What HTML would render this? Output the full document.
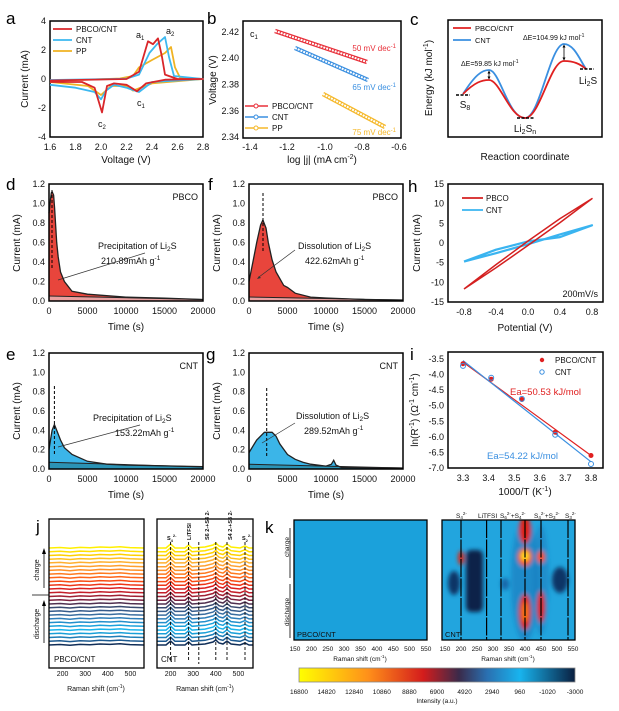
<!DOCTYPE html>
<html><head><meta charset="utf-8"><style>
body{margin:0;background:#fff}
svg{display:block;font-family:"Liberation Sans",Arial,sans-serif}
.t{font-size:9px;fill:#111}
.ti{font-size:10px;fill:#111}
.L{font-size:17px;fill:#000}
.s{font-size:6.5px;fill:#111}
</style></head><body>
<svg width="619" height="711" viewBox="0 0 619 711" xmlns="http://www.w3.org/2000/svg">
<defs>
<linearGradient id="cb" x1="0" x2="1" y1="0" y2="0">
<stop offset="0" stop-color="#ffff00"/><stop offset="0.25" stop-color="#ff901a"/><stop offset="0.45" stop-color="#d41c1c"/><stop offset="0.58" stop-color="#3a2a4a"/><stop offset="0.68" stop-color="#2a6fb0"/><stop offset="0.8" stop-color="#18b4ee"/><stop offset="1" stop-color="#0a1f40"/>
</linearGradient>
<filter id="bl" x="-50%" y="-50%" width="200%" height="200%"><feGaussianBlur stdDeviation="2"/></filter>
<path id="lt" d="M49,0 L60,-0.5 L70,0.3 L80,-0.6 L90,-0.2 L100,-1 L110,-0.6 L120,-1.2 L130,-0.4 L144,0" fill="none"/>
<path id="rt" d="M157,0 L166,0 L170.6,-4 L175,0 L185,0 L188.6,-3 L192,0 L205,-1 L213,-3 L215.8,-5 L219,-2 L223,-1 L227,-4 L231,-1 L240,0 L245,-2 L249,0 L253,0" fill="none"/>
</defs>

<!-- ========== a ========== -->
<text x="6" y="24" class="L">a</text>
<rect x="50" y="21" width="153" height="116" fill="none" stroke="#000" stroke-width="1.5"/>
<g class="t" text-anchor="end"><text x="46" y="24">4</text><text x="46" y="53">2</text><text x="46" y="82">0</text><text x="46" y="111">-2</text><text x="46" y="140">-4</text></g>
<g class="t" text-anchor="middle"><text x="50" y="150">1.6</text><text x="75.5" y="150">1.8</text><text x="101" y="150">2.0</text><text x="126.5" y="150">2.2</text><text x="152" y="150">2.4</text><text x="177.5" y="150">2.6</text><text x="203" y="150">2.8</text></g>
<text x="126" y="163" class="ti" text-anchor="middle">Voltage (V)</text>
<text transform="translate(28,79) rotate(-90)" class="ti" text-anchor="middle">Current (mA)</text>
<g fill="none" stroke-width="1.8" stroke-linejoin="round">
<polyline stroke="#f0b323" points="50,82 88,86 101,95 111,86 126.5,86 133,90.6 152,83.4 203,79 180,77.6 175,67.4 171,47 165,53 152,60 139,67.4 133,76 120,78.5 50,81"/>
<polyline stroke="#3cb8f0" points="50,84.8 75.5,87.7 94.6,92 101,99.3 106,90.6 114,84.8 126.5,87.7 139,92 152,82 203,79 174,76 169,57 165,37 157,44.2 149.5,52.9 139,74.6 126,78.8 50,80"/>
<polyline stroke="#d9262a" points="50,82 82,82 94.6,87.7 102,112.4 107,86 114,83.4 126.5,84.8 137,91.3 146,83.4 165,79.7 203,79 177.5,79 165,74.6 162,57 158,38.4 153,44.2 148,41.3 139,71.75 126.5,79 50,80.5"/>
</g>
<g stroke-width="1.8"><line x1="53" y1="29" x2="72" y2="29" stroke="#d9262a"/><line x1="53" y1="40" x2="72" y2="40" stroke="#3cb8f0"/><line x1="53" y1="51" x2="72" y2="51" stroke="#f0b323"/></g>
<g class="t" style="font-size:8px"><text x="76" y="32">PBCO/CNT</text><text x="76" y="43">CNT</text><text x="76" y="54">PP</text></g>
<g class="t"><text x="136" y="38">a<tspan font-size="6" dy="2">1</tspan></text><text x="166" y="34">a<tspan font-size="6" dy="2">2</tspan></text><text x="137" y="106">c<tspan font-size="6" dy="2">1</tspan></text><text x="98" y="127">c<tspan font-size="6" dy="2">2</tspan></text></g>

<!-- ========== b ========== -->
<text x="207" y="24" class="L">b</text>
<rect x="243" y="21" width="158" height="117" fill="none" stroke="#000" stroke-width="1.5"/>
<g class="t" text-anchor="end"><text x="239" y="35">2.42</text><text x="239" y="61">2.40</text><text x="239" y="87.5">2.38</text><text x="239" y="114">2.36</text><text x="239" y="140">2.34</text></g>
<g class="t" text-anchor="middle"><text x="250" y="150">-1.4</text><text x="287" y="150">-1.2</text><text x="325" y="150">-1.0</text><text x="362" y="150">-0.8</text><text x="399" y="150">-0.6</text></g>
<text x="322" y="163" class="ti" text-anchor="middle">log |j| (mA cm<tspan font-size="7" dy="-4">-2</tspan><tspan dy="4">)</tspan></text>
<text transform="translate(216,80) rotate(-90)" class="ti" text-anchor="middle">Voltage (V)</text>
<g fill="none">
<line x1="275" y1="31" x2="367" y2="62" stroke="#e8303a" stroke-width="4.5"/><line x1="275" y1="31" x2="367" y2="62" stroke="#fff" stroke-width="2" stroke-dasharray="2 1"/>
<line x1="295" y1="48" x2="368" y2="80" stroke="#3a8fe0" stroke-width="4.5"/><line x1="295" y1="48" x2="368" y2="80" stroke="#fff" stroke-width="2" stroke-dasharray="2 1"/>
<line x1="323" y1="94" x2="385" y2="127" stroke="#f5b82a" stroke-width="4.5"/><line x1="323" y1="94" x2="385" y2="127" stroke="#fff" stroke-width="2" stroke-dasharray="2 1"/>
</g>
<g style="font-size:8px" text-anchor="end"><text x="396" y="51" fill="#e8303a">50 mV dec<tspan font-size="6" dy="-3">-1</tspan></text><text x="396" y="90" fill="#3a8fe0">65 mV dec<tspan font-size="6" dy="-3">-1</tspan></text><text x="396" y="135" fill="#f5b82a">75 mV dec<tspan font-size="6" dy="-3">-1</tspan></text></g>
<text x="250" y="37" class="t">c<tspan font-size="6" dy="2">1</tspan></text>
<g stroke-width="1.5"><line x1="245" y1="106" x2="268" y2="106" stroke="#e8303a"/><line x1="245" y1="117" x2="268" y2="117" stroke="#3a8fe0"/><line x1="245" y1="128" x2="268" y2="128" stroke="#f5b82a"/></g>
<g fill="#fff" stroke-width="1"><circle cx="256" cy="106" r="2" stroke="#e8303a"/><circle cx="256" cy="117" r="2" stroke="#3a8fe0"/><circle cx="256" cy="128" r="2" stroke="#f5b82a"/></g>
<g class="t" style="font-size:8px"><text x="272" y="109">PBCO/CNT</text><text x="272" y="120">CNT</text><text x="272" y="131">PP</text></g>

<!-- ========== c ========== -->
<text x="410" y="25" class="L">c</text>
<rect x="448" y="20" width="154" height="117" fill="none" stroke="#000" stroke-width="1.5"/>
<text transform="translate(432,78) rotate(-90)" class="ti" text-anchor="middle">Energy (kJ mol<tspan font-size="7" dy="-4">-1</tspan><tspan dy="4">)</tspan></text>
<text x="525" y="160" class="ti" text-anchor="middle">Reaction coordinate</text>
<path d="M463,94 C475,75 482,70 489,70 C500,70 508,118 525,118 C540,118 550,44 564,44 C574,44 580,60 586,69" fill="none" stroke="#3a8fe0" stroke-width="1.8"/>
<path d="M463,94 C475,82 482,80 489,80 C500,80 510,118 525,118 C540,118 550,61 564,61 C574,61 580,64 586,69" fill="none" stroke="#e02020" stroke-width="1.8"/>
<g stroke="#000" stroke-width="1.5" stroke-dasharray="3 1.5"><line x1="456" y1="95" x2="470" y2="95"/><line x1="517" y1="118" x2="534" y2="118"/><line x1="580" y1="69" x2="594" y2="69"/></g>
<g stroke="#000" stroke-width="0.8"><line x1="489" y1="72" x2="489" y2="79"/><line x1="564" y1="46" x2="564" y2="60"/></g>
<g fill="#000"><path d="M489,70.5 l-1.5,3 h3z"/><path d="M489,79.5 l-1.5,-3 h3z"/><path d="M564,44.5 l-1.5,3 h3z"/><path d="M564,60.5 l-1.5,-3 h3z"/></g>
<g style="font-size:7px" fill="#111"><text x="461" y="66">ΔE=59.85 kJ mol<tspan font-size="5" dy="-3">-1</tspan></text><text x="523" y="40">ΔE=104.99 kJ mol<tspan font-size="5" dy="-3">-1</tspan></text></g>
<g stroke-width="1.8"><line x1="453" y1="28" x2="471" y2="28" stroke="#e02020"/><line x1="453" y1="40" x2="471" y2="40" stroke="#3a8fe0"/></g>
<g class="t" style="font-size:7.5px"><text x="475" y="31">PBCO/CNT</text><text x="475" y="43">CNT</text></g>
<g style="font-size:10px" fill="#111" text-anchor="middle"><text x="465" y="108">S<tspan font-size="7" dy="2">8</tspan></text><text x="525" y="132">Li<tspan font-size="7" dy="2">2</tspan><tspan dy="-2">S</tspan><tspan font-size="7" dy="2">n</tspan></text><text x="588" y="84">Li<tspan font-size="7" dy="2">2</tspan><tspan dy="-2">S</tspan></text></g>

<!-- ========== d ========== -->
<text x="6" y="190" class="L">d</text>
<polygon points="49,296 203,299.5 203,301 49,301" fill="#e9a0a0"/>
<path d="M49,301 L49,213.2 L50.5,199 L51.3,193 L52.1,191.7 L53.6,195 L54.6,208 L56.7,242.5 L58.2,257 L60.5,272 L64.4,281.5 L72,291.3 L87.5,294.2 L126,297.1 L164.5,298.1 L203,299.5 L49,296Z" fill="#e8453c"/>
<polyline points="49,213.2 50.5,199 51.3,193 52.1,191.7 53.6,195 54.6,208 56.7,242.5 58.2,257 60.5,272 64.4,281.5 72,291.3 87.5,294.2 126,297.1 164.5,298.1 203,299.5" fill="none" stroke="#222" stroke-width="1.3"/>
<line x1="49" y1="296" x2="203" y2="299.5" stroke="#222" stroke-width="1"/>
<line x1="52" y1="190" x2="52" y2="270" stroke="#000" stroke-dasharray="3 2"/>
<rect x="49" y="184" width="154" height="117" fill="none" stroke="#000" stroke-width="1.5"/>
<g class="t" text-anchor="end"><text x="45" y="304">0.0</text><text x="45" y="284.5">0.2</text><text x="45" y="265">0.4</text><text x="45" y="245.5">0.6</text><text x="45" y="226">0.8</text><text x="45" y="206.5">1.0</text><text x="45" y="187">1.2</text></g>
<g class="t" text-anchor="middle"><text x="49" y="314">0</text><text x="87.5" y="314">5000</text><text x="126" y="314">10000</text><text x="164.5" y="314">15000</text><text x="203" y="314">20000</text></g>
<text x="126" y="330" class="ti" text-anchor="middle">Time (s)</text>
<text transform="translate(20,243) rotate(-90)" class="ti" text-anchor="middle">Current (mA)</text>
<text x="198" y="200" class="t" text-anchor="end">PBCO</text>
<text x="98" y="249" class="t">Precipitation of Li<tspan font-size="6.5" dy="2">2</tspan><tspan dy="-2">S</tspan></text>
<text x="101" y="264" class="t">210.89mAh g<tspan font-size="6.5" dy="-4">-1</tspan></text>
<line x1="145" y1="253" x2="58" y2="280" stroke="#333" stroke-width="0.7"/>

<!-- ========== f ========== -->
<text x="208" y="190" class="L">f</text>
<polygon points="249,297 403,300 403,301 249,301" fill="#e9a0a0"/>
<path d="M249,301 L249,281.5 L252.9,262 L256.7,242.5 L260.6,225 L262.9,220 L266,228 L268.3,242.5 L272.1,260 L276,271.8 L283.7,285.4 L287.5,287.4 L295.2,293.2 L310.6,297.1 L326,298 L364.5,299.5 L403,300 L249,297Z" fill="#e8453c"/>
<polyline points="249,281.5 252.9,262 256.7,242.5 260.6,225 262.9,220 266,228 268.3,242.5 272.1,260 276,271.8 283.7,285.4 287.5,287.4 295.2,293.2 310.6,297.1 326,298 364.5,299.5 403,300" fill="none" stroke="#222" stroke-width="1.3"/>
<line x1="249" y1="297" x2="403" y2="300" stroke="#222"/>
<line x1="263" y1="193" x2="263" y2="252" stroke="#000" stroke-dasharray="3 2"/>
<rect x="249" y="184" width="154" height="117" fill="none" stroke="#000" stroke-width="1.5"/>
<g class="t" text-anchor="end"><text x="245" y="304">0.0</text><text x="245" y="284.5">0.2</text><text x="245" y="265">0.4</text><text x="245" y="245.5">0.6</text><text x="245" y="226">0.8</text><text x="245" y="206.5">1.0</text><text x="245" y="187">1.2</text></g>
<g class="t" text-anchor="middle"><text x="249" y="314">0</text><text x="287.5" y="314">5000</text><text x="326" y="314">10000</text><text x="364.5" y="314">15000</text><text x="403" y="314">20000</text></g>
<text x="326" y="330" class="ti" text-anchor="middle">Time (s)</text>
<text transform="translate(220,243) rotate(-90)" class="ti" text-anchor="middle">Current (mA)</text>
<text x="398" y="200" class="t" text-anchor="end">PBCO</text>
<text x="298" y="249" class="t">Dissolution of Li<tspan font-size="6.5" dy="2">2</tspan><tspan dy="-2">S</tspan></text>
<text x="305" y="264" class="t">422.62mAh g<tspan font-size="6.5" dy="-4">-1</tspan></text>
<line x1="295" y1="250" x2="259" y2="277" stroke="#333" stroke-width="0.7"/>
<path d="M257,279 l4,-1 l-2,-2z" fill="#333"/>

<!-- ========== h ========== -->
<text x="408" y="192" class="L">h</text>
<rect x="448" y="184" width="155" height="118" fill="none" stroke="#000" stroke-width="1.5"/>
<g class="t" text-anchor="end"><text x="444" y="187">15</text><text x="444" y="206.7">10</text><text x="444" y="226.3">5</text><text x="444" y="246">0</text><text x="444" y="265.7">-5</text><text x="444" y="285.3">-10</text><text x="444" y="305">-15</text></g>
<g class="t" text-anchor="middle"><text x="464" y="315">-0.8</text><text x="496" y="315">-0.4</text><text x="528" y="315">0.0</text><text x="560" y="315">0.4</text><text x="592" y="315">0.8</text></g>
<text x="525" y="331" class="ti" text-anchor="middle">Potential (V)</text>
<text transform="translate(420,243) rotate(-90)" class="ti" text-anchor="middle">Current (mA)</text>
<g fill="none" stroke-linejoin="round">
<polyline stroke="#3ab4f0" stroke-width="2.2" points="464,261.5 496,253.2 528,244.2 560,234.4 592,225.3 560,237.1 528,241.4 496,249.7 464,261.5"/>
<polyline stroke="#d42020" stroke-width="1.5" points="464,289 496,264.6 528,241 560,218.6 592,198.6 560,222.6 528,245.4 496,267.8 464,289"/>
</g>
<g stroke-width="1.8"><line x1="462" y1="198" x2="483" y2="198" stroke="#d42020"/><line x1="462" y1="210" x2="483" y2="210" stroke="#3ab4f0"/></g>
<g class="t" style="font-size:8px"><text x="486" y="201">PBCO</text><text x="486" y="213">CNT</text></g>
<text x="598" y="297" class="t" text-anchor="end">200mV/s</text>

<!-- ========== e ========== -->
<text x="6" y="360" class="L">e</text>
<polygon points="49,462.2 203,467 203,469 49,469" fill="#2b93b5"/>
<path d="M49,462.2 L49,449.7 L50.5,440 L52.1,430.3 L54.4,424.5 L56.7,430.3 L60.5,440 L64.4,447.7 L72.1,454.5 L87.5,461.3 L106.8,464.2 L126,465.1 L203,466.6 L203,467Z" fill="#3bb5e8"/>
<polyline points="49,449.7 50.5,440 52.1,430.3 54.4,424.5 56.7,430.3 60.5,440 64.4,447.7 72.1,454.5 87.5,461.3 106.8,464.2 126,465.1 203,466.6" fill="none" stroke="#222" stroke-width="1.3"/>
<line x1="49" y1="462.2" x2="203" y2="467" stroke="#222"/>
<line x1="54.4" y1="386" x2="54.4" y2="455" stroke="#000" stroke-dasharray="3 2"/>
<rect x="49" y="353" width="154" height="116" fill="none" stroke="#000" stroke-width="1.5"/>
<g class="t" text-anchor="end"><text x="45" y="472">0.0</text><text x="45" y="452.7">0.2</text><text x="45" y="433.3">0.4</text><text x="45" y="414">0.6</text><text x="45" y="394.7">0.8</text><text x="45" y="375.3">1.0</text><text x="45" y="356">1.2</text></g>
<g class="t" text-anchor="middle"><text x="49" y="482">0</text><text x="87.5" y="482">5000</text><text x="126" y="482">10000</text><text x="164.5" y="482">15000</text><text x="203" y="482">20000</text></g>
<text x="126" y="498" class="ti" text-anchor="middle">Time (s)</text>
<text transform="translate(20,411) rotate(-90)" class="ti" text-anchor="middle">Current (mA)</text>
<text x="198" y="369" class="t" text-anchor="end">CNT</text>
<text x="93" y="421" class="t">Precipitation of Li<tspan font-size="6.5" dy="2">2</tspan><tspan dy="-2">S</tspan></text>
<text x="115" y="436" class="t">153.22mAh g<tspan font-size="6.5" dy="-4">-1</tspan></text>
<line x1="140" y1="425" x2="58" y2="447" stroke="#333" stroke-width="0.7"/>

<!-- ========== g ========== -->
<text x="206" y="360" class="L">g</text>
<polygon points="249,464.2 403,468 403,469 249,469" fill="#2b93b5"/>
<path d="M249,464.2 L249,452.6 L256.7,440 L264.4,432.3 L272.1,432.3 L276,436.1 L279.8,443.9 L287.5,454.5 L295.2,459.3 L302.9,462.2 L310.6,464.2 L326,466.1 L331.4,464.2 L333.7,460.3 L336,465.1 L341.4,467.5 L403,468Z" fill="#3bb5e8"/>
<polyline points="249,452.6 256.7,440 264.4,432.3 272.1,432.3 276,436.1 279.8,443.9 287.5,454.5 295.2,459.3 302.9,462.2 310.6,464.2 326,466.1 331.4,464.2 333.7,460.3 336,465.1 341.4,467.5 403,468" fill="none" stroke="#222" stroke-width="1.3"/>
<line x1="249" y1="464.2" x2="403" y2="468" stroke="#222"/>
<line x1="266.7" y1="388" x2="266.7" y2="456" stroke="#000" stroke-dasharray="3 2"/>
<rect x="249" y="353" width="154" height="116" fill="none" stroke="#000" stroke-width="1.5"/>
<g class="t" text-anchor="end"><text x="245" y="472">0.0</text><text x="245" y="452.7">0.2</text><text x="245" y="433.3">0.4</text><text x="245" y="414">0.6</text><text x="245" y="394.7">0.8</text><text x="245" y="375.3">1.0</text><text x="245" y="356">1.2</text></g>
<g class="t" text-anchor="middle"><text x="249" y="482">0</text><text x="287.5" y="482">5000</text><text x="326" y="482">10000</text><text x="364.5" y="482">15000</text><text x="403" y="482">20000</text></g>
<text x="326" y="498" class="ti" text-anchor="middle">Time (s)</text>
<text transform="translate(220,411) rotate(-90)" class="ti" text-anchor="middle">Current (mA)</text>
<text x="398" y="369" class="t" text-anchor="end">CNT</text>
<text x="296" y="419" class="t">Dissolution of Li<tspan font-size="6.5" dy="2">2</tspan><tspan dy="-2">S</tspan></text>
<text x="304" y="434" class="t">289.52mAh g<tspan font-size="6.5" dy="-4">-1</tspan></text>
<line x1="295" y1="423" x2="262" y2="443" stroke="#333" stroke-width="0.7"/>

<!-- ========== i ========== -->
<text x="410" y="360" class="L">i</text>
<rect x="448" y="352" width="155" height="116" fill="none" stroke="#000" stroke-width="1.5"/>
<g class="t" text-anchor="end"><text x="444" y="362">-3.5</text><text x="444" y="377.6">-4.0</text><text x="444" y="393.1">-4.5</text><text x="444" y="408.7">-5.0</text><text x="444" y="424.3">-5.5</text><text x="444" y="439.8">-6.0</text><text x="444" y="455.4">-6.5</text><text x="444" y="471">-7.0</text></g>
<g class="t" text-anchor="middle"><text x="463" y="481">3.3</text><text x="488.6" y="481">3.4</text><text x="514.2" y="481">3.5</text><text x="539.8" y="481">3.6</text><text x="565.4" y="481">3.7</text><text x="591" y="481">3.8</text></g>
<text x="525" y="495" class="ti" text-anchor="middle">1000/T (K<tspan font-size="7" dy="-4">-1</tspan><tspan dy="4">)</tspan></text>
<text transform="translate(418,410) rotate(-90)" class="ti" text-anchor="middle">ln(R<tspan font-size="7" dy="-4">-1</tspan><tspan dy="4">) (Ω</tspan><tspan font-size="7" dy="-4">-1</tspan><tspan dy="4"> cm</tspan><tspan font-size="7" dy="-4">-1</tspan><tspan dy="4">)</tspan></text>
<line x1="463" y1="362.1" x2="591" y2="455.5" stroke="#e02020" stroke-width="1.2"/>
<line x1="463" y1="360.6" x2="591" y2="461.8" stroke="#3a8fe0" stroke-width="1.2"/>
<g fill="#e02020"><circle cx="463" cy="363.7" r="2.5"/><circle cx="491.2" cy="379.2" r="2.5"/><circle cx="521.9" cy="399.5" r="2.5"/><circle cx="555.2" cy="432.2" r="2.5"/><circle cx="591" cy="455.5" r="2.5"/><circle cx="542" cy="360" r="2.2"/></g>
<g fill="none" stroke="#3a8fe0" stroke-width="1"><circle cx="463" cy="365.9" r="2.5"/><circle cx="491.2" cy="377.7" r="2.5"/><circle cx="521.9" cy="398.9" r="2.5"/><circle cx="555.2" cy="434.7" r="2.5"/><circle cx="591" cy="464" r="2.5"/><circle cx="542" cy="372" r="2.2"/></g>
<g class="t" style="font-size:8px"><text x="555" y="363">PBCO/CNT</text><text x="555" y="375">CNT</text></g>
<text x="510" y="395" style="font-size:9.5px" fill="#e02020">Ea=50.53 kJ/mol</text>
<text x="487" y="459" style="font-size:9.5px" fill="#3a8fe0">Ea=54.22 kJ/mol</text>

<!-- ========== j ========== -->
<text x="36" y="532" class="L">j</text>
<g fill="none" stroke-width="1.5">
<use href="#lt" y="548" stroke="#ffef00"/><use href="#lt" y="551.7" stroke="#ffe000"/><use href="#lt" y="555.5" stroke="#ffd000"/><use href="#lt" y="559.2" stroke="#ffc020"/><use href="#lt" y="562.9" stroke="#ffb030"/><use href="#lt" y="566.7" stroke="#ffa030"/><use href="#lt" y="570.4" stroke="#ff9028"/><use href="#lt" y="574.1" stroke="#ff7a20"/><use href="#lt" y="577.8" stroke="#ff6418"/><use href="#lt" y="581.6" stroke="#f84c14"/><use href="#lt" y="585.3" stroke="#ee3618"/><use href="#lt" y="589" stroke="#dc2020"/><use href="#lt" y="592.8" stroke="#c41e2a"/><use href="#lt" y="596.5" stroke="#a02034"/><use href="#lt" y="600.2" stroke="#7a2240"/><use href="#lt" y="604" stroke="#503050"/><use href="#lt" y="607.7" stroke="#3a4a70"/><use href="#lt" y="611.4" stroke="#365c8c"/><use href="#lt" y="615.1" stroke="#3a6ea0"/><use href="#lt" y="618.9" stroke="#2f7fba"/><use href="#lt" y="622.6" stroke="#2390cc"/><use href="#lt" y="626.3" stroke="#1aa2dc"/><use href="#lt" y="630.1" stroke="#1ab4ec"/><use href="#lt" y="633.8" stroke="#1aa0d8"/><use href="#lt" y="637.5" stroke="#1e7fb8"/><use href="#lt" y="641.3" stroke="#1c5a90"/><use href="#lt" y="645" stroke="#102e58"/>
<use href="#rt" y="548" stroke="#ffef00"/><use href="#rt" y="551.7" stroke="#ffe000"/><use href="#rt" y="555.5" stroke="#ffd000"/><use href="#rt" y="559.2" stroke="#ffc020"/><use href="#rt" y="562.9" stroke="#ffb030"/><use href="#rt" y="566.7" stroke="#ffa030"/><use href="#rt" y="570.4" stroke="#ff9028"/><use href="#rt" y="574.1" stroke="#ff7a20"/><use href="#rt" y="577.8" stroke="#ff6418"/><use href="#rt" y="581.6" stroke="#f84c14"/><use href="#rt" y="585.3" stroke="#ee3618"/><use href="#rt" y="589" stroke="#dc2020"/><use href="#rt" y="592.8" stroke="#c41e2a"/><use href="#rt" y="596.5" stroke="#a02034"/><use href="#rt" y="600.2" stroke="#7a2240"/><use href="#rt" y="604" stroke="#503050"/><use href="#rt" y="607.7" stroke="#3a4a70"/><use href="#rt" y="611.4" stroke="#365c8c"/><use href="#rt" y="615.1" stroke="#3a6ea0"/><use href="#rt" y="618.9" stroke="#2f7fba"/><use href="#rt" y="622.6" stroke="#2390cc"/><use href="#rt" y="626.3" stroke="#1aa2dc"/><use href="#rt" y="630.1" stroke="#1ab4ec"/><use href="#rt" y="633.8" stroke="#1aa0d8"/><use href="#rt" y="637.5" stroke="#1e7fb8"/><use href="#rt" y="641.3" stroke="#1c5a90"/><use href="#rt" y="645" stroke="#102e58"/>
</g>
<rect x="49" y="519" width="95" height="149" fill="none" stroke="#000" stroke-width="1.3"/>
<rect x="157" y="519" width="96" height="149" fill="none" stroke="#000" stroke-width="1.3"/>
<g stroke="#000" stroke-width="0.9" stroke-dasharray="3 2"><line x1="170.6" y1="542" x2="170.6" y2="660"/><line x1="188.6" y1="542" x2="188.6" y2="660"/><line x1="198.8" y1="542" x2="198.8" y2="664"/><line x1="215.8" y1="542" x2="215.8" y2="660"/><line x1="227" y1="542" x2="227" y2="660"/><line x1="245" y1="542" x2="245" y2="660"/></g>
<g class="s" style="font-size:5.5px;font-weight:bold"><text x="167" y="540">S<tspan font-size="4" dy="2">4</tspan><tspan font-size="4" dy="-5">2-</tspan></text><text x="242" y="540">S<tspan font-size="4" dy="2">2</tspan><tspan font-size="4" dy="-5">2-</tspan></text>
<text transform="translate(191,540) rotate(-90)">LiTFSI</text><text transform="translate(209,540) rotate(-90)">S6 2-+S4 2-</text><text transform="translate(232,540) rotate(-90)">S4 2-+S3 2-</text></g>
<g stroke="#000" stroke-width="0.8"><line x1="44" y1="552" x2="44" y2="588"/><line x1="32" y1="595" x2="49" y2="595"/><line x1="44" y1="604" x2="44" y2="643"/></g>
<g fill="#000"><path d="M44,548 l-2,6 h4z"/><path d="M44,600 l-2,6 h4z"/></g>
<text transform="translate(39,570) rotate(-90)" class="s" style="font-size:7px" text-anchor="middle">charge</text>
<text transform="translate(39,624) rotate(-90)" class="s" style="font-size:7px" text-anchor="middle">discharge</text>
<text x="54" y="662" class="t" style="font-size:8px">PBCO/CNT</text>
<text x="161" y="662" class="t" style="font-size:8px">CNT</text>
<g class="s" style="font-size:7px" text-anchor="middle"><text x="62.6" y="676">200</text><text x="85.2" y="676">300</text><text x="107.8" y="676">400</text><text x="130.4" y="676">500</text><text x="170.6" y="676">200</text><text x="193.2" y="676">300</text><text x="215.8" y="676">400</text><text x="238.4" y="676">500</text></g>
<g class="s" style="font-size:7px" text-anchor="middle"><text x="96" y="691">Raman shift (cm<tspan font-size="5" dy="-3">-1</tspan><tspan dy="3">)</tspan></text><text x="205" y="691">Raman shift (cm<tspan font-size="5" dy="-3">-1</tspan><tspan dy="3">)</tspan></text></g>

<!-- ========== k ========== -->
<text x="265" y="533" class="L">k</text>
<rect x="294" y="520" width="133" height="120" fill="#1ba1db"/>
<rect x="442" y="520" width="133" height="120" fill="#22a5de"/>
<svg x="442" y="520" width="133" height="120" overflow="hidden">
<g filter="url(#bl)" transform="translate(-442,-520)">
<ellipse cx="525" cy="580" rx="14" ry="62" fill="#1a7fc0" opacity="0.7"/>
<ellipse cx="541" cy="580" rx="8" ry="55" fill="#1a7fc0" opacity="0.6"/>
<rect x="466" y="550" width="17" height="62" rx="5" fill="#0a2448"/>
<ellipse cx="454" cy="583" rx="6" ry="12" fill="#0d3566"/>
<ellipse cx="560" cy="580" rx="8" ry="13" fill="#0d3566"/>
<ellipse cx="505" cy="584" rx="4" ry="6" fill="#1766a8"/>
<ellipse cx="525" cy="530" rx="6" ry="14" fill="#e02010"/>
<ellipse cx="525" cy="557" rx="7" ry="9" fill="#ff5010"/>
<ellipse cx="525" cy="556" rx="4" ry="5" fill="#ffe020"/>
<ellipse cx="525" cy="612" rx="6" ry="18" fill="#e02010"/>
<ellipse cx="525" cy="612" rx="3" ry="10" fill="#ff7a10"/>
<ellipse cx="541" cy="557" rx="4" ry="6" fill="#ff5010"/>
<ellipse cx="541" cy="607" rx="4" ry="16" fill="#e02010"/>
<ellipse cx="461" cy="558" rx="3" ry="7" fill="#e02010"/>
</g>
</svg>
<rect x="294" y="520" width="133" height="120" fill="none" stroke="#000" stroke-width="1.3"/>
<rect x="442" y="520" width="133" height="120" fill="none" stroke="#000" stroke-width="1.3"/>
<g stroke="#000" stroke-width="1.2" stroke-dasharray="18 1.5"><line x1="461" y1="520" x2="461" y2="640"/><line x1="486.6" y1="520" x2="486.6" y2="640"/><line x1="501" y1="520" x2="501" y2="640"/><line x1="525" y1="520" x2="525" y2="640"/><line x1="541" y1="520" x2="541" y2="640"/><line x1="568" y1="520" x2="568" y2="640"/></g>
<g class="s" style="font-size:6.5px"><text x="456" y="518">S<tspan font-size="4.5" dy="1">4</tspan><tspan font-size="4.5" dy="-4">2-</tspan></text><text x="478" y="518">LiTFSI</text><text x="500" y="518">S<tspan font-size="4.5" dy="1">6</tspan><tspan font-size="4.5" dy="-4">2-</tspan><tspan dy="3">+S</tspan><tspan font-size="4.5" dy="1">4</tspan><tspan font-size="4.5" dy="-4">2-</tspan></text><text x="534" y="518">S<tspan font-size="4.5" dy="1">4</tspan><tspan font-size="4.5" dy="-4">2-</tspan><tspan dy="3">+S</tspan><tspan font-size="4.5" dy="1">3</tspan><tspan font-size="4.5" dy="-4">2-</tspan></text><text x="565" y="518">S<tspan font-size="4.5" dy="1">3</tspan><tspan font-size="4.5" dy="-4">2-</tspan></text></g>
<g stroke="#000" stroke-width="0.8"><line x1="290" y1="528" x2="290" y2="578"/><line x1="290" y1="584" x2="290" y2="638"/></g>
<text transform="translate(289,547) rotate(-90)" class="s" text-anchor="middle">charge</text>
<text transform="translate(289,612) rotate(-90)" class="s" text-anchor="middle">discharge</text>
<text x="297" y="637" class="s" style="font-size:7.5px">PBCO/CNT</text>
<text x="445" y="637" class="s" style="font-size:7.5px">CNT</text>
<g class="s" text-anchor="middle"><text x="295" y="651">150</text><text x="311.4" y="651">200</text><text x="327.8" y="651">250</text><text x="344.1" y="651">300</text><text x="360.5" y="651">350</text><text x="376.9" y="651">400</text><text x="393.3" y="651">450</text><text x="409.6" y="651">500</text><text x="426" y="651">550</text>
<text x="445" y="651">150</text><text x="461" y="651">200</text><text x="477" y="651">250</text><text x="493" y="651">300</text><text x="509" y="651">350</text><text x="525" y="651">400</text><text x="541" y="651">450</text><text x="557" y="651">500</text><text x="573" y="651">550</text></g>
<g class="s" text-anchor="middle"><text x="360" y="661">Raman shift (cm<tspan font-size="4.5" dy="-3">-1</tspan><tspan dy="3">)</tspan></text><text x="508" y="661">Raman shift (cm<tspan font-size="4.5" dy="-3">-1</tspan><tspan dy="3">)</tspan></text></g>
<rect x="299" y="668" width="276" height="14" fill="url(#cb)" stroke="#888" stroke-width="0.8"/>
<g class="s" text-anchor="middle"><text x="299" y="694">16800</text><text x="326.6" y="694">14820</text><text x="354.2" y="694">12840</text><text x="381.8" y="694">10860</text><text x="409.4" y="694">8880</text><text x="437" y="694">6900</text><text x="464.6" y="694">4920</text><text x="492.2" y="694">2940</text><text x="519.8" y="694">960</text><text x="547.4" y="694">-1020</text><text x="575" y="694">-3000</text></g>
<text x="437" y="703" class="s" text-anchor="middle">Intensity (a.u.)</text>
</svg>
</body></html>
